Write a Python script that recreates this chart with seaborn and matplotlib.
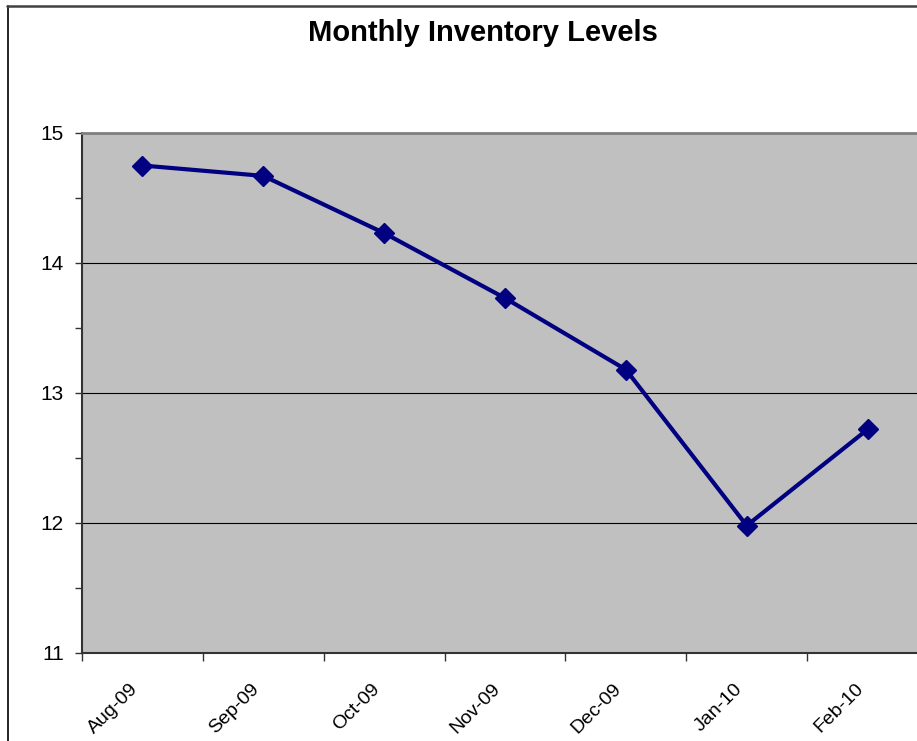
import numpy as np
import pandas as pd
import seaborn as sns
from matplotlib import pyplot as plt
from matplotlib.lines import Line2D
from matplotlib.transforms import ScaledTranslation

# Data
months = ["Aug-09", "Sep-09", "Oct-09", "Nov-09", "Dec-09", "Jan-10", "Feb-10"]
inventory = [14.75, 14.67, 14.23, 13.73, 13.18, 11.98, 12.72]
y_ticks = [11, 12, 13, 14, 15]

sns.set_style("white")
plt.rcParams["font.family"] = ["Liberation Sans", "DejaVu Sans"]
plt.rcParams["text.color"] = "black"
plt.rcParams["xtick.color"] = "black"
plt.rcParams["ytick.color"] = "black"

W, H = 917, 741
fig = plt.figure(figsize=(W / 100, H / 100), dpi=100)
# plot area runs past the right edge of the picture (cropped Excel chart)
ax = fig.add_axes([82 / W, 1 - 653 / H, (928 - 82) / W, (653 - 133) / H])
ax.set_facecolor("#C0C0C0")

df = pd.DataFrame({"month": months, "inventory": inventory})
sns.lineplot(data=df, x="month", y="inventory", sort=False, ax=ax,
             color="#000080", linewidth=3, marker="D", markersize=10,
             markeredgecolor="#000080", markeredgewidth=1, zorder=5)

# y axis
ax.set_ylim(y_ticks[0], y_ticks[-1])
ax.set_yticks(y_ticks)
ax.set_yticks(np.arange(y_ticks[0], y_ticks[-1], 0.5), minor=True)
ax.yaxis.grid(True, which="major", color="black", linewidth=0.8)
ax.tick_params(axis="y", which="both", direction="out", left=True, length=5,
               width=1, color="#333333", labelsize=15, labelcolor="black", pad=8)

# x axis: ticks on category boundaries, labels at centres
ax.set_xlim(-0.5, len(months) - 0.5)
ax.set_xticks(np.arange(-0.5, len(months)))
ax.set_xticklabels([])
ax.set_xticks(range(len(months)), minor=True)
ax.set_xticklabels(months, minor=True, rotation=45, ha="right", va="center",
                   rotation_mode="anchor")
ax.tick_params(axis="x", which="major", direction="out", bottom=True, length=6,
               width=1, color="#333333")
ax.tick_params(axis="x", which="minor", bottom=False, length=0, labelsize=14,
               labelcolor="black", pad=24)
shift = ScaledTranslation(-7 / 100, 0, fig.dpi_scale_trans)
for lbl in ax.get_xticklabels(minor=True):
    lbl.set_transform(lbl.get_transform() + shift)
ax.set_xlabel("")
ax.set_ylabel("")

for side in ["left", "bottom"]:
    ax.spines[side].set_color("#333333")
    ax.spines[side].set_linewidth(1.5)
ax.spines["top"].set_color("#808080")
ax.spines["top"].set_linewidth(2)
ax.spines["right"].set_visible(False)

fig.text(483 / W, 1 - 41 / H, "Monthly Inventory Levels", ha="center",
         va="baseline", fontsize=21, fontweight="bold", color="black")

# outer chart border
fig.add_artist(Line2D([7.5 / W, 7.5 / W], [0, 1 - 6 / H], transform=fig.transFigure,
                      color="black", linewidth=1.2))
fig.add_artist(Line2D([7 / W, 1], [1 - 6 / H, 1 - 6 / H], transform=fig.transFigure,
                      color="#404040", linewidth=1.8))

fig.savefig("out.png", dpi=100)
